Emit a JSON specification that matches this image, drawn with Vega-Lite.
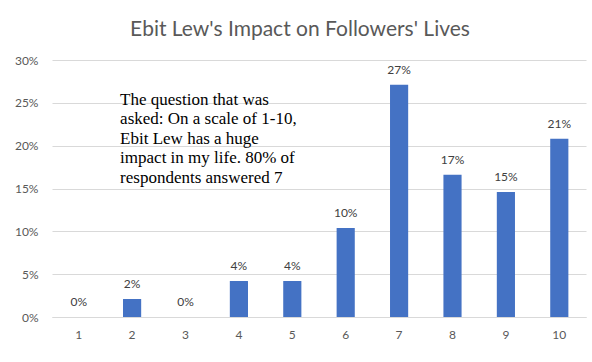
{
  "$schema": "https://vega.github.io/schema/vega-lite/v6.json",
  "autosize": {"type": "none"},
  "padding": {"left": 52, "top": 60, "right": 6, "bottom": 45},
  "width": 534,
  "height": 257,
  "background": "white",
  "title": {
    "text": "Ebit Lew's Impact on Followers' Lives",
    "font": "Lato",
    "fontSize": 21,
    "fontWeight": "normal",
    "color": "#595959",
    "anchor": "middle",
    "baseline": "alphabetic",
    "dx": -19,
    "offset": -3
  },
  "data": {
    "values": [
      {"score": "1", "share": 0.0, "label": "0%"},
      {"score": "2", "share": 0.021, "label": "2%"},
      {"score": "3", "share": 0.0, "label": "0%"},
      {"score": "4", "share": 0.042, "label": "4%"},
      {"score": "5", "share": 0.042, "label": "4%"},
      {"score": "6", "share": 0.104, "label": "10%"},
      {"score": "7", "share": 0.271, "label": "27%"},
      {"score": "8", "share": 0.166, "label": "17%"},
      {"score": "9", "share": 0.146, "label": "15%"},
      {"score": "10", "share": 0.208, "label": "21%"}
    ]
  },
  "encoding": {
    "x": {
      "field": "score",
      "type": "ordinal",
      "sort": null,
      "title": null,
      "scale": {"paddingInner": 0.66, "paddingOuter": 0.33},
      "axis": {
        "labelAngle": 0,
        "labelFont": "Lato",
        "labelFontSize": 12,
        "labelColor": "#595959",
        "labelPadding": 12,
        "ticks": false,
        "domainColor": "#d9d9d9",
        "domainWidth": 1
      }
    },
    "y": {
      "field": "share",
      "type": "quantitative",
      "title": null,
      "scale": {"domain": [0, 0.3], "nice": false},
      "axis": {
        "format": ".0%",
        "values": [0, 0.05, 0.1, 0.15, 0.2, 0.25, 0.3],
        "labelFont": "Lato",
        "labelFontSize": 12,
        "labelColor": "#595959",
        "labelPadding": 14,
        "ticks": false,
        "domain": false,
        "gridColor": "#d9d9d9",
        "gridWidth": 1
      }
    }
  },
  "layer": [
    {"mark": {"type": "bar", "color": "#4472C4"}},
    {
      "mark": {"type": "text", "font": "Lato", "fontSize": 12, "color": "#404040", "baseline": "middle", "dy": -15},
      "encoding": {"text": {"field": "label"}}
    },
    {
      "data": {"values": [{"score": "2", "share": 0.263, "note": ["The question that was", "asked: On a scale of 1-10,", "Ebit Lew has a huge", "impact in my life. 80% of", "respondents answered 7"]}]},
      "mark": {"type": "text", "font": "Liberation Serif", "fontSize": 17, "color": "#000000", "align": "left", "baseline": "top", "lineHeight": 19.5, "dx": -12},
      "encoding": {"text": {"field": "note"}}
    }
  ],
  "config": {"view": {"stroke": null}}
}
